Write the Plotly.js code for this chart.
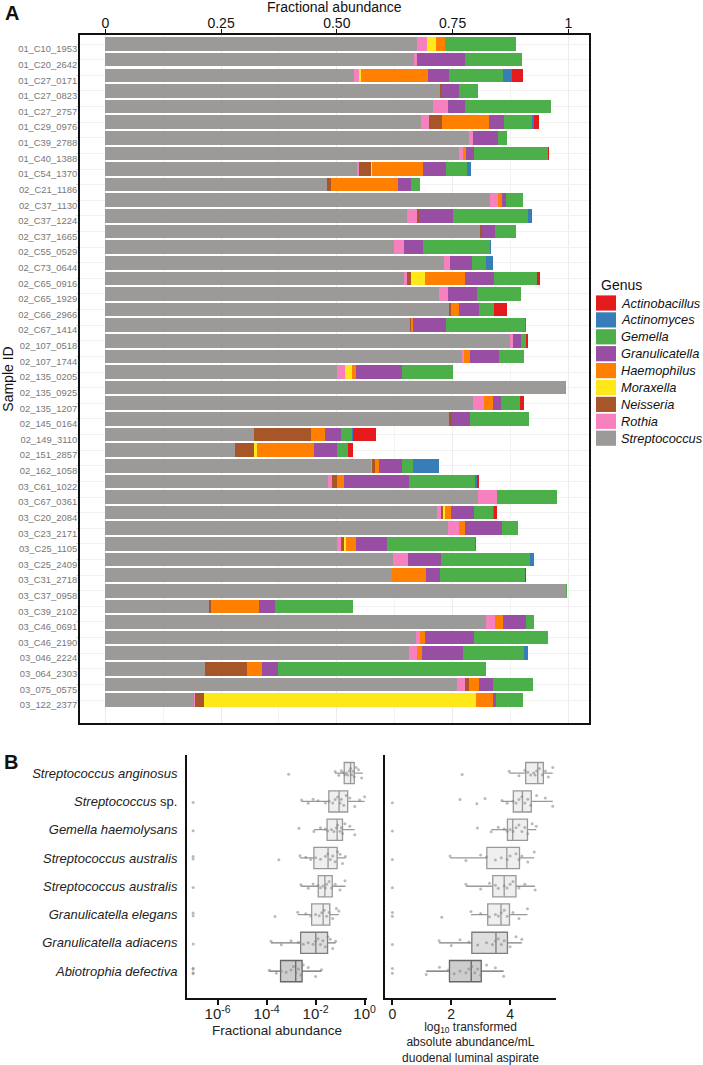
<!DOCTYPE html>
<html>
<head>
<meta charset="utf-8">
<script src="https://cdn.plot.ly/plotly-3.0.1.min.js"></script>
<style>
  html, body { margin: 0; padding: 0; background: #fff; }
  #chart { width: 703px; height: 1065px; }
</style>
</head>
<body>
<div id="chart"></div>
<script>
// Panel A: genus fractions per sample (stacked bars)
var sampleIds = [
  '01_C10_1953', '01_C20_2642', '01_C27_0171', '01_C27_0823', '01_C27_2757',
  '01_C29_0976', '01_C39_2788', '01_C40_1388', '01_C54_1370', '02_C21_1186',
  '02_C37_1130', '02_C37_1224', '02_C37_1665', '02_C55_0529', '02_C73_0644',
  '02_C65_0916', '02_C65_1929', '02_C66_2966', '02_C67_1414', '02_107_0518',
  '02_107_1744', '02_135_0205', '02_135_0925', '02_135_1207', '02_145_0164',
  '02_149_3110', '02_151_2857', '02_162_1058', '03_C61_1022', '03_C67_0361',
  '03_C20_2084', '03_C23_2171', '03_C25_1105', '03_C25_2409', '03_C31_2718',
  '03_C37_0958', '03_C39_2102', '03_C46_0691', '03_C46_2190', '03_046_2224',
  '03_064_2303', '03_075_0575', '03_122_2377'
];

var streptococcus = [0.674, 0.667, 0.537, 0.722, 0.707, 0.682, 0.786, 0.764, 0.543, 0.479,
  0.831, 0.651, 0.809, 0.624, 0.732, 0.645, 0.721, 0.743, 0.658, 0.874,
  0.770, 0.501, 0.994, 0.795, 0.743, 0.322, 0.280, 0.573, 0.482, 0.806,
  0.716, 0.741, 0.501, 0.622, 0.619, 0.995, 0.223, 0.822, 0.670, 0.656,
  0.215, 0.760, 0.192];
var rothia = [0.020, 0.006, 0.010, 0, 0.034, 0.018, 0.009, 0.009, 0.004, 0,
  0.018, 0.022, 0, 0.022, 0.013, 0.006, 0.020, 0, 0, 0.007,
  0.005, 0.017, 0, 0.022, 0, 0, 0, 0.002, 0.008, 0.039,
  0.009, 0.022, 0.007, 0.031, 0, 0, 0, 0.020, 0.010, 0.017,
  0, 0.016, 0.002];
var neisseria = [0, 0, 0, 0.006, 0, 0.028, 0, 0, 0.027, 0.008,
  0, 0.005, 0.005, 0, 0, 0.009, 0, 0.004, 0.003, 0,
  0, 0, 0, 0, 0.005, 0.122, 0.041, 0.008, 0.011, 0,
  0.004, 0, 0.008, 0, 0, 0, 0.005, 0, 0, 0,
  0.090, 0.010, 0.019];
var moraxella = [0.020, 0, 0.005, 0, 0, 0, 0, 0, 0.003, 0,
  0, 0, 0, 0, 0, 0.031, 0, 0, 0, 0,
  0, 0.014, 0, 0, 0, 0, 0.007, 0, 0, 0,
  0.004, 0, 0.004, 0, 0, 0, 0, 0, 0, 0,
  0, 0, 0.588];
var haemophilus = [0.020, 0, 0.146, 0, 0, 0.101, 0, 0.005, 0.109, 0.145,
  0.007, 0, 0, 0, 0, 0.086, 0, 0.017, 0.004, 0,
  0.013, 0.009, 0, 0.021, 0, 0.030, 0.123, 0.009, 0.015, 0,
  0.013, 0.014, 0.022, 0, 0.074, 0, 0.105, 0.018, 0.011, 0.010,
  0.033, 0.021, 0.036];
var granulicatella = [0, 0.103, 0.044, 0.035, 0.036, 0.032, 0.054, 0.019, 0.049, 0.028,
  0.009, 0.072, 0.028, 0.041, 0.048, 0.063, 0.061, 0.044, 0.070, 0.017,
  0.062, 0.099, 0, 0.017, 0.040, 0.034, 0.049, 0.048, 0.139, 0,
  0.051, 0.079, 0.067, 0.072, 0.029, 0, 0.034, 0.049, 0.105, 0.090,
  0.036, 0.030, 0.007];
var gemella = [0.153, 0.123, 0.116, 0.041, 0.186, 0.060, 0.018, 0.160, 0.046, 0.020,
  0.037, 0.162, 0.044, 0.143, 0.029, 0.092, 0.095, 0.032, 0.171, 0.010,
  0.054, 0.112, 0, 0.041, 0.128, 0.024, 0.025, 0.024, 0.144, 0.131,
  0.040, 0.036, 0.190, 0.192, 0.185, 0.003, 0.167, 0.017, 0.161, 0.131,
  0.448, 0.086, 0.059];
var actinomyces = [0, 0, 0.021, 0, 0, 0.004, 0, 0, 0.008, 0,
  0, 0.010, 0, 0.002, 0.015, 0, 0, 0, 0.002, 0,
  0, 0, 0, 0, 0, 0.004, 0, 0.057, 0.003, 0,
  0.003, 0, 0.002, 0.009, 0, 0, 0, 0, 0, 0.010,
  0, 0, 0];
var actinobacillus = [0, 0, 0.024, 0, 0, 0.011, 0, 0.002, 0, 0,
  0, 0, 0, 0, 0, 0.006, 0, 0.028, 0, 0.004,
  0, 0, 0, 0.008, 0, 0.049, 0.010, 0, 0.005, 0,
  0.007, 0, 0, 0, 0.002, 0, 0, 0, 0, 0,
  0, 0, 0];

// stacking order, bottom of stack first (legend lists it reversed)
var genera = [
  {name: 'Streptococcus', values: streptococcus, color: '#9c9999'},
  {name: 'Rothia', values: rothia, color: '#f781bf'},
  {name: 'Neisseria', values: neisseria, color: '#a65628'},
  {name: 'Moraxella', values: moraxella, color: '#ffe81a'},
  {name: 'Haemophilus', values: haemophilus, color: '#ff7f00'},
  {name: 'Granulicatella', values: granulicatella, color: '#984ea3'},
  {name: 'Gemella', values: gemella, color: '#4daf4a'},
  {name: 'Actinomyces', values: actinomyces, color: '#377eb8'},
  {name: 'Actinobacillus', values: actinobacillus, color: '#e41a1c'}
];

// Panel B: box plot summaries (log10 values)
var speciesLabels = [
  '<i>Streptococcus anginosus</i>', '<i>Streptococcus</i> sp.', '<i>Gemella haemolysans</i>',
  '<i>Streptococcus australis</i>', '<i>Streptococcus australis</i>', '<i>Granulicatella elegans</i>',
  '<i>Granulicatella adiacens</i>', '<i>Abiotrophia defectiva</i>'
];

// fractional abundance, log10 (zeros shown at 1e-7)
var fracQ1 = [-0.83, -1.46, -1.53, -2.07, -1.89, -2.16, -2.61, -3.43];
var fracMedian = [-0.57, -1.04, -1.12, -1.49, -1.62, -1.69, -1.99, -2.81];
var fracQ3 = [-0.42, -0.69, -0.90, -1.12, -1.32, -1.42, -1.51, -2.55];
var fracLow = [-1.21, -2.57, -2.07, -2.64, -2.60, -2.73, -3.82, -3.89];
var fracHigh = [-0.07, 0.0, -0.40, -0.78, -0.78, -1.05, -1.18, -1.76];
var fracPoints = [
  [-3.1, -1.2, -1.05, -0.95, -0.88, -0.8, -0.74, -0.68, -0.62, -0.57, -0.52, -0.47, -0.42, -0.35, -0.25, -0.12],
  [-7, -2.57, -2.3, -2.1, -1.9, -1.6, -1.45, -1.3, -1.2, -1.1, -1.0, -0.95, -0.85, -0.75, -0.6, -0.4, -0.2, 0.0],
  [-7, -2.68, -2.07, -1.8, -1.6, -1.5, -1.35, -1.25, -1.15, -1.1, -1.0, -0.95, -0.9, -0.8, -0.6, -0.4],
  [-7, -7, -3.5, -2.64, -2.4, -2.2, -2.0, -1.8, -1.6, -1.5, -1.4, -1.3, -1.2, -1.1, -1.0, -0.9, -0.78],
  [-7, -2.6, -2.3, -2.1, -1.9, -1.8, -1.7, -1.6, -1.55, -1.45, -1.35, -1.2, -1.0, -0.8],
  [-7, -7, -3.66, -2.73, -2.4, -2.2, -2.0, -1.85, -1.75, -1.65, -1.55, -1.45, -1.3, -1.15, -1.05],
  [-7, -3.82, -3.4, -3.0, -2.7, -2.5, -2.3, -2.1, -2.0, -1.9, -1.8, -1.7, -1.6, -1.5, -1.4, -1.3, -1.18],
  [-7, -7, -7, -7, -3.89, -3.6, -3.4, -3.2, -3.0, -2.9, -2.8, -2.7, -2.6, -2.5, -2.3, -2.0, -1.76]
];

// absolute abundance per mL, log10
var absQ1 = [4.53, 4.11, 3.91, 3.21, 3.41, 3.24, 2.70, 1.94];
var absMedian = [4.94, 4.42, 4.09, 3.89, 3.80, 3.69, 3.52, 2.68];
var absQ3 = [5.13, 4.72, 4.59, 4.32, 4.20, 3.98, 3.91, 3.02];
var absLow = [3.97, 3.72, 3.36, 1.96, 2.50, 2.67, 1.59, 1.15];
var absHigh = [5.45, 5.45, 4.89, 4.82, 4.85, 4.59, 4.40, 3.78];
var absPoints = [
  [2.37, 3.97, 4.3, 4.5, 4.6, 4.7, 4.8, 4.85, 4.9, 5.0, 5.1, 5.2, 5.3, 5.45],
  [0, 2.30, 2.87, 3.15, 3.72, 3.9, 4.1, 4.2, 4.3, 4.4, 4.5, 4.6, 4.7, 4.9, 5.2, 5.45],
  [0, 2.89, 3.36, 3.6, 3.8, 3.9, 4.0, 4.1, 4.2, 4.3, 4.4, 4.5, 4.6, 4.75, 4.89],
  [0, 1.96, 2.5, 3.0, 3.2, 3.5, 3.7, 3.9, 4.0, 4.2, 4.3, 4.4, 4.6, 4.82],
  [0, 2.5, 3.0, 3.3, 3.5, 3.6, 3.8, 3.9, 4.0, 4.1, 4.3, 4.5, 4.85],
  [0, 0, 1.68, 2.67, 3.0, 3.3, 3.5, 3.6, 3.7, 3.8, 3.9, 4.1, 4.3, 4.59],
  [0, 1.59, 2.0, 2.3, 2.6, 2.9, 3.2, 3.4, 3.5, 3.6, 3.7, 3.8, 4.0, 4.2, 4.4],
  [0, 0, 1.15, 1.6, 1.9, 2.1, 2.3, 2.5, 2.6, 2.7, 2.8, 2.9, 3.0, 3.2, 3.5, 3.78]
];

var boxFill = ['#efefef', '#efefef', '#efefef', '#efefef', '#efefef', '#efefef', '#dedede', '#cdcdcd'];
var boxLine = ['#999999', '#999999', '#999999', '#999999', '#999999', '#999999', '#7d7d7d', '#666666'];

var W = 703, H = 1065;
function px(x) { return x / W; }
function py(y) { return 1 - y / H; }

var traces = [];

genera.forEach(function (g) {
  traces.push({
    type: 'bar', orientation: 'h',
    name: g.name,
    x: g.values, y: sampleIds,
    marker: {color: g.color, line: {width: 0}},
    xaxis: 'x', yaxis: 'y',
    showlegend: false,
    hoverinfo: 'name+x'
  });
});

function addBoxes(q1, med, q3, lo, hi, pts, xa, ya) {
  for (var i = 0; i < q1.length; i++) {
    traces.push({
      type: 'box', orientation: 'h',
      y: [i], q1: [q1[i]], median: [med[i]], q3: [q3[i]],
      lowerfence: [lo[i]], upperfence: [hi[i]],
      width: 0.75, whiskerwidth: 0, boxpoints: false,
      fillcolor: boxFill[i], line: {color: boxLine[i], width: 1.3},
      xaxis: xa, yaxis: ya, showlegend: false
    });
    // jittered sample points drawn on top
    traces.push({
      type: 'box', orientation: 'h',
      x: pts[i], y: pts[i].map(function () { return i; }),
      width: 0.75, boxpoints: 'all', jitter: 0.6, pointpos: 0,
      fillcolor: 'rgba(0,0,0,0)', line: {color: 'rgba(0,0,0,0)', width: 0},
      marker: {size: 3, color: 'rgba(130,130,130,0.55)'},
      xaxis: xa, yaxis: ya, showlegend: false, hoveron: 'points'
    });
  }
}
addBoxes(fracQ1, fracMedian, fracQ3, fracLow, fracHigh, fracPoints, 'x2', 'y2');
addBoxes(absQ1, absMedian, absQ3, absLow, absHigh, absPoints, 'x3', 'y3');

var ink = '#111';
var catIdx = speciesLabels.map(function (s, i) { return i; });

var shapes = [];
var annotations = [
  {text: '<b>A</b>', xref: 'paper', yref: 'paper', x: px(3), y: py(13), xanchor: 'left', yanchor: 'middle',
   showarrow: false, font: {size: 20, color: ink}},
  {text: '<b>B</b>', xref: 'paper', yref: 'paper', x: px(2), y: py(762), xanchor: 'left', yanchor: 'middle',
   showarrow: false, font: {size: 20, color: ink}},
  // top axis title of panel A
  {text: 'Fractional abundance', xref: 'paper', yref: 'paper', x: px(334), y: py(7), xanchor: 'center', yanchor: 'middle',
   showarrow: false, font: {size: 14, color: ink}},
  {text: 'Genus', xref: 'paper', yref: 'paper', x: px(599), y: py(285), xanchor: 'left', yanchor: 'middle',
   showarrow: false, font: {size: 14, color: ink}}
];
// hand-built legend: swatches + italic names, top item first
genera.slice().reverse().forEach(function (g, k) {
  var yc = 303 + k * 16.9;
  shapes.push({
    type: 'rect', xref: 'paper', yref: 'paper',
    x0: px(596), x1: px(616), y0: py(yc + 7.6), y1: py(yc - 7.6),
    fillcolor: g.color, line: {width: 0}
  });
  annotations.push({
    text: '<i>' + g.name + '</i>', xref: 'paper', yref: 'paper',
    x: px(619), y: py(yc), xanchor: 'left', yanchor: 'middle',
    showarrow: false, font: {size: 12.8, color: ink}
  });
});

var layout = {
  width: W, height: H,
  margin: {l: 0, r: 0, t: 0, b: 0},
  paper_bgcolor: '#ffffff', plot_bgcolor: '#ffffff',
  font: {family: 'Liberation Sans, Arial, sans-serif', color: '#222', size: 13},
  barmode: 'stack', bargap: 0.13,
  boxmode: 'overlay',
  showlegend: false,
  xaxis: {
    domain: [px(80), px(589)], anchor: 'y', side: 'top',
    range: [-0.0546, 1.0447],
    tickvals: [0, 0.25, 0.5, 0.75, 1], ticktext: ['0', '0.25', '0.50', '0.75', '1'],
    ticks: 'outside', ticklen: 4, tickcolor: ink,
    ticklabelstandoff: -5,
    showline: true, mirror: true, linecolor: ink, linewidth: 2,
    showgrid: true, gridcolor: '#ececec', zeroline: false,
    minor: {tickvals: [0.125, 0.375, 0.625, 0.875], showgrid: true, gridcolor: '#f3f3f3', ticks: ''},
    tickfont: {size: 14, color: ink}
  },
  yaxis: {
    domain: [py(723), py(35)], anchor: 'x', type: 'category',
    categoryorder: 'array', categoryarray: sampleIds,
    range: [43.47, -0.58],
    showline: true, mirror: true, linecolor: ink, linewidth: 2,
    showgrid: true, gridcolor: '#f1f1f1', zeroline: false,
    ticks: 'outside', ticklen: 2, tickcolor: '#dddddd',
    ticklabelshift: -5, ticklabelstandoff: -3,
    tickfont: {family: 'Liberation Sans, Arial, sans-serif', size: 9.4, color: '#777'},
    title: {text: 'Sample ID', standoff: 6, font: {size: 14, color: ink}}
  },
  xaxis2: {
    domain: [px(187), px(367)], anchor: 'y2',
    range: [-7.25, 0.1],
    tickvals: [-6, -4, -2, 0],
    ticktext: ['10<sup>-6</sup>', '10<sup>-4</sup>', '10<sup>-2</sup>', '10<sup>0</sup>'],
    ticks: 'outside', ticklen: 5, tickwidth: 2, tickcolor: ink,
    ticklabelstandoff: -4,
    showline: true, linecolor: ink, linewidth: 2,
    showgrid: false, zeroline: false,
    tickfont: {size: 15, color: '#222'},
    title: {text: 'Fractional abundance', standoff: 5, font: {size: 13.5, color: '#222'}}
  },
  yaxis2: {
    domain: [py(998), py(755)], anchor: 'x2',
    range: [7.95, -0.64],
    tickvals: catIdx, ticktext: speciesLabels,
    showline: true, linecolor: ink, linewidth: 2,
    showgrid: false, zeroline: false, ticks: '',
    ticklabelstandoff: 5,
    tickfont: {size: 13, color: '#222'}
  },
  xaxis3: {
    domain: [px(385), px(556)], anchor: 'y3',
    range: [-0.25, 5.56],
    tickvals: [0, 2, 4],
    ticks: 'outside', ticklen: 5, tickwidth: 2, tickcolor: ink,
    ticklabelstandoff: -3,
    showline: true, linecolor: ink, linewidth: 2,
    showgrid: false, zeroline: false,
    tickfont: {size: 14, color: '#222'},
    title: {
      text: 'log<sub>10</sub> transformed<br>absolute abundance/mL<br>duodenal luminal aspirate',
      standoff: 14, font: {size: 12, color: '#222'}
    }
  },
  yaxis3: {
    domain: [py(998), py(755)], anchor: 'x3',
    range: [7.95, -0.64],
    showticklabels: false,
    showline: true, linecolor: ink, linewidth: 2,
    showgrid: false, zeroline: false, ticks: ''
  },
  shapes: shapes,
  annotations: annotations
};

Plotly.newPlot('chart', traces, layout, {displayModeBar: false, staticPlot: true});
</script>
</body>
</html>
